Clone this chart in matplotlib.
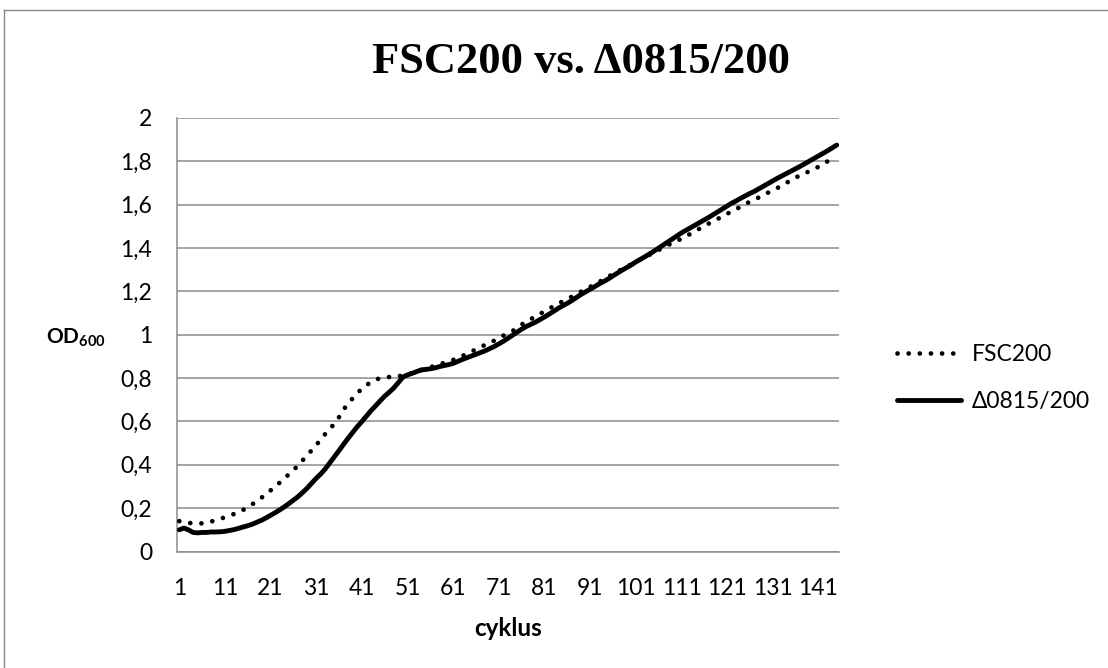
import matplotlib
matplotlib.use("Agg")
import matplotlib.pyplot as plt
from matplotlib.lines import Line2D

plt.rcParams['font.family'] = ['Lato', 'DejaVu Sans']
plt.rcParams['mathtext.fontset'] = 'custom'
plt.rcParams['mathtext.rm'] = 'Lato'
plt.rcParams['mathtext.bf'] = 'Lato:bold'

title = "FSC200 vs. \u03940815/200"
series_names = ["FSC200", "\u03940815/200"]
x_label = "cyklus"
y_tick_values = [0, 0.2, 0.4, 0.6, 0.8, 1.0, 1.2, 1.4, 1.6, 1.8, 2.0]
y_tick_labels = ["0", "0,2", "0,4", "0,6", "0,8", "1", "1,2", "1,4", "1,6", "1,8", "2"]
x_tick_labels = ["1", "11", "21", "31", "41", "51", "61", "71", "81", "91",
                 "101", "111", "121", "131", "141"]

fsc200 = [
    0.140, 0.136, 0.132, 0.130, 0.129, 0.130, 0.132, 0.138, 0.145, 0.151,
    0.158, 0.166, 0.173, 0.181, 0.192, 0.205, 0.218, 0.232, 0.248, 0.265,
    0.282, 0.298, 0.318, 0.337, 0.356, 0.375, 0.397, 0.420, 0.444, 0.467,
    0.491, 0.517, 0.543, 0.566, 0.590, 0.620, 0.655, 0.684, 0.707, 0.730,
    0.752, 0.768, 0.781, 0.792, 0.800, 0.803, 0.805, 0.806, 0.808, 0.813,
    0.818, 0.822, 0.829, 0.836, 0.843, 0.850, 0.857, 0.864, 0.870, 0.876,
    0.884, 0.893, 0.902, 0.912, 0.922, 0.933, 0.944, 0.953, 0.962, 0.973,
    0.985, 0.996, 1.006, 1.017, 1.032, 1.047, 1.060, 1.072, 1.084, 1.096,
    1.108, 1.120, 1.132, 1.144, 1.154, 1.165, 1.176, 1.188, 1.199, 1.210,
    1.221, 1.232, 1.244, 1.256, 1.268, 1.280, 1.292, 1.303, 1.314, 1.325,
    1.336, 1.347, 1.358, 1.369, 1.380, 1.391, 1.402, 1.413, 1.423, 1.433,
    1.443, 1.454, 1.466, 1.478, 1.490, 1.502, 1.513, 1.524, 1.535, 1.547,
    1.558, 1.569, 1.580, 1.591, 1.603, 1.614, 1.624, 1.634, 1.645, 1.656,
    1.666, 1.677, 1.689, 1.701, 1.713, 1.725, 1.736, 1.745, 1.754, 1.764,
    1.775, 1.788, 1.800, 1.812, 1.822,
]

d0815 = [
    0.100, 0.108, 0.100, 0.088, 0.086, 0.088, 0.088, 0.090, 0.090, 0.091,
    0.093, 0.097, 0.101, 0.107, 0.113, 0.119, 0.126, 0.135, 0.144, 0.155,
    0.167, 0.179, 0.192, 0.206, 0.221, 0.237, 0.253, 0.272, 0.292, 0.315,
    0.338, 0.358, 0.382, 0.410, 0.438, 0.466, 0.495, 0.523, 0.550, 0.576,
    0.600, 0.625, 0.650, 0.672, 0.695, 0.717, 0.735, 0.755, 0.780, 0.805,
    0.815, 0.822, 0.830, 0.838, 0.840, 0.843, 0.847, 0.853, 0.858, 0.862,
    0.868, 0.877, 0.886, 0.894, 0.902, 0.910, 0.918, 0.926, 0.936, 0.946,
    0.958, 0.970, 0.984, 0.998, 1.012, 1.026, 1.038, 1.048, 1.058, 1.070,
    1.082, 1.095, 1.108, 1.122, 1.134, 1.145, 1.158, 1.172, 1.186, 1.198,
    1.210, 1.222, 1.235, 1.246, 1.258, 1.272, 1.285, 1.298, 1.310, 1.322,
    1.336, 1.348, 1.360, 1.373, 1.386, 1.400, 1.414, 1.428, 1.442, 1.456,
    1.470, 1.482, 1.494, 1.506, 1.518, 1.530, 1.542, 1.555, 1.568, 1.581,
    1.594, 1.607, 1.618, 1.630, 1.641, 1.652, 1.662, 1.674, 1.686, 1.698,
    1.710, 1.722, 1.733, 1.744, 1.755, 1.766, 1.777, 1.789, 1.801, 1.813,
    1.825, 1.837, 1.849, 1.862, 1.875,
]

cycles = list(range(1, len(fsc200) + 1))

W, H = 1108, 668
fig = plt.figure(figsize=(W / 100, H / 100), dpi=100)
fig.patch.set_facecolor("white")

# chart area border (cropped on right and bottom)
border_col = "#878787"
fig.add_artist(Line2D([4 / W, 1.0], [1 - 10 / H, 1 - 10 / H], transform=fig.transFigure,
                      color=border_col, lw=1.0))
fig.add_artist(Line2D([4 / W, 4 / W], [0.0, 1 - 10 / H], transform=fig.transFigure,
                      color=border_col, lw=1.0))

ax_left, ax_right = 177, 839
ax_top, ax_bottom = 118, 551.5
ax = fig.add_axes([ax_left / W, 1 - ax_bottom / H, (ax_right - ax_left) / W,
                   (ax_bottom - ax_top) / H])

grid_col = "#8c8c8c"
ax.plot(cycles, fsc200, color="black", lw=3.4, linestyle=(0, (0.01, 2.35)),
        dash_capstyle="round", label=series_names[0], zorder=3)
ax.plot(cycles, d0815, color="black", lw=3.5, solid_capstyle="round",
        solid_joinstyle="round", label=series_names[1], zorder=4)

ax.set_xlim(0.5, len(cycles) + 0.5)
ax.set_ylim(0, 2)
ax.set_yticks(y_tick_values)
ax.set_yticklabels(y_tick_labels)
ax.set_xticks(cycles[::10])
ax.set_xticklabels(x_tick_labels)
ax.tick_params(axis="both", length=0, labelsize=16.5, colors="black")
ax.tick_params(axis="y", pad=18)
ax.tick_params(axis="x", pad=19)
ax.yaxis.grid(True, color=grid_col, lw=1.1)
ax.set_axisbelow(True)
for s in ["top", "right"]:
    ax.spines[s].set_visible(False)
for s in ["left", "bottom"]:
    ax.spines[s].set_color(grid_col)
    ax.spines[s].set_linewidth(1.1)

ax.set_xlabel(x_label, fontsize=17.5, fontweight="bold")
ax.xaxis.set_label_coords(0.5, (ax_bottom - 628) / (ax_bottom - ax_top))
ax.xaxis.label.set_va("center")

fig.text(106 / W, 1 - 338 / H, r"$\mathbf{OD}_{\mathbf{600}}$", fontsize=15,
         ha="right", va="center")

fig.text(581 / W, 1 - 62 / H, title, fontsize=32, fontweight="bold",
         family=["Liberation Serif", "DejaVu Serif"], ha="center", va="center")

leg = ax.legend(loc="center left", bbox_to_anchor=(897 / W, 1 - 378 / H),
                bbox_transform=fig.transFigure, frameon=False, fontsize=16.5,
                handlelength=2.8, handletextpad=0.45, labelspacing=1.15,
                borderpad=0, borderaxespad=0)

fig.savefig("out.png", dpi=100, facecolor="white")
